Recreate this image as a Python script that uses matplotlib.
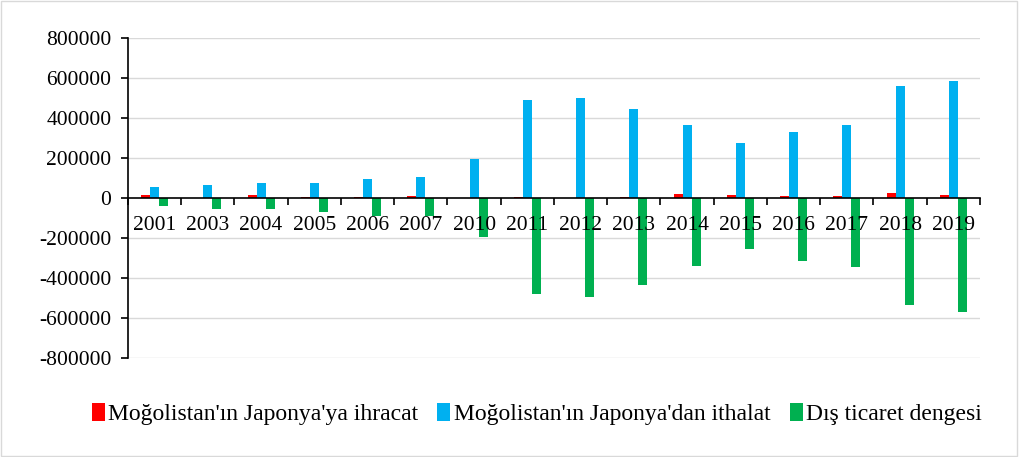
import matplotlib.pyplot as plt
from matplotlib.patches import Rectangle
import numpy as np

plt.rcParams['font.family'] = ['Liberation Serif', 'DejaVu Serif']

# veriler (grafikten okunan tahmini değerler)
years = ['2001', '2003', '2004', '2005', '2006', '2007', '2010', '2011',
         '2012', '2013', '2014', '2015', '2016', '2017', '2018', '2019']
ihracat = [15000, 2000, 15000, 3000, 3000, 10000, 1000, 5000,
           2000, 7000, 20000, 17000, 10000, 10000, 25000, 13000]
ithalat = [55000, 65000, 75000, 75000, 95000, 105000, 195000, 490000,
           500000, 445000, 365000, 275000, 330000, 365000, 560000, 585000]
denge = [-40000, -55000, -55000, -70000, -90000, -90000, -195000, -480000,
         -495000, -435000, -340000, -255000, -315000, -345000, -535000, -570000]

y_ticks = [-800000, -600000, -400000, -200000, 0, 200000, 400000, 600000, 800000]

fig = plt.figure(figsize=(10.19, 4.57), dpi=100)
ax = fig.add_axes([0.1256, 0.2166, 0.8361, 0.7002])

x = np.arange(len(years))
w = 0.17
# ızgara çizgileri çubukların arkasında
for v in y_ticks:
    if v != 0:
        ax.axhline(v, color='#d9d9d9', linewidth=1, zorder=0)
ax.bar(x - w, ihracat, w, color='#ff0000', label="Moğolistan'ın Japonya'ya ihracat", zorder=1)
ax.bar(x, ithalat, w, color='#00b0f0', label="Moğolistan'ın Japonya'dan ithalat", zorder=1)
ax.bar(x + w, denge, w, color='#00b050', label='Dış ticaret dengesi', zorder=1)

# eksenler
ax.set_xlim(-0.5, len(years) - 0.5)
ax.set_ylim(-800000, 800000)
ax.set_yticks(y_ticks)
ax.set_yticklabels([str(v) for v in y_ticks], fontsize=15.5)

ax.spines['top'].set_visible(False)
ax.spines['right'].set_visible(False)
ax.spines['bottom'].set_position(('data', 0))
ax.spines['left'].set_linewidth(1.2)
ax.spines['bottom'].set_linewidth(1.2)

ax.set_xticks(np.arange(len(years) + 1) - 0.5)
ax.set_xticklabels([])
ax.set_xticks(x, minor=True)
ax.set_xticklabels(years, minor=True, fontsize=15.5)
ax.tick_params(axis='x', which='major', direction='out', length=5, width=1.2)
ax.tick_params(axis='x', which='minor', length=0, pad=13)
ax.tick_params(axis='y', direction='out', length=5, width=1.2, pad=7)

# lejant
ax.legend(loc='upper center', bbox_to_anchor=(0.48, -0.075), ncol=3, frameon=False,
          fontsize=17, handlelength=0.55, handleheight=0.75, handletextpad=0.15,
          columnspacing=0.8)

# çerçeve
fig.patches.append(Rectangle((0.001, 0.002), 0.997, 0.995, transform=fig.transFigure,
                             fill=False, edgecolor='#d9d9d9', linewidth=1))

fig.savefig('out.png', dpi=100)
plt.close(fig)
